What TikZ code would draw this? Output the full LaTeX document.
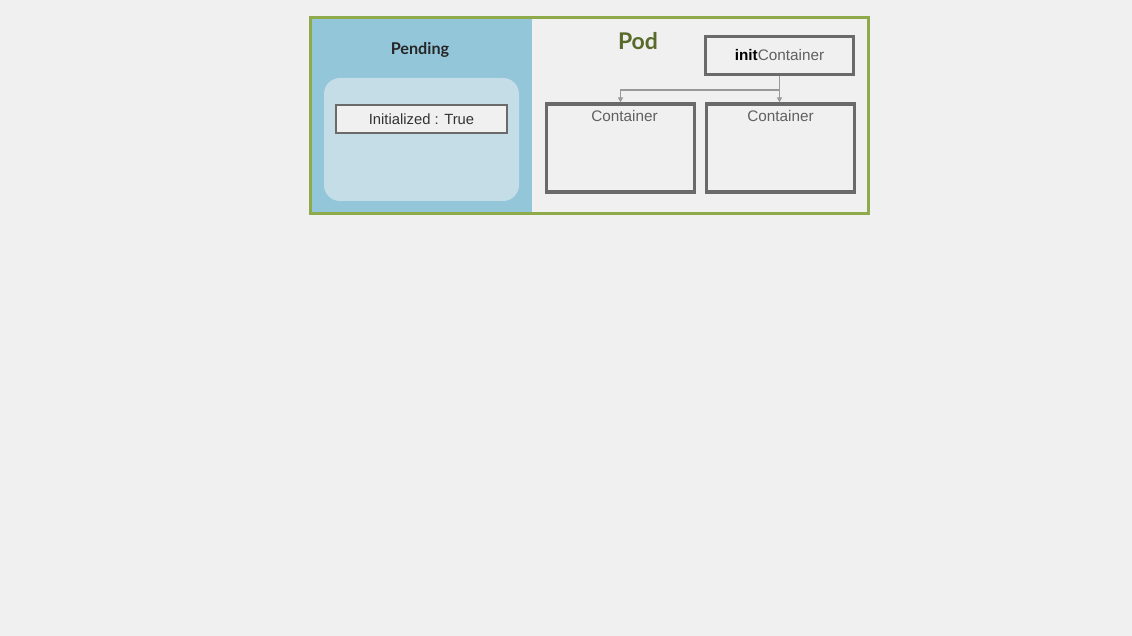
\documentclass[tikz,border=0pt]{standalone}
\usepackage{fontspec}
\setmainfont{Liberation Sans}
\newfontfamily\headfont{Lato}
\usetikzlibrary{arrows.meta,calc}
\definecolor{bg}{HTML}{F0F0F0}
\definecolor{podgreen}{HTML}{8FAA4A}
\definecolor{podtext}{HTML}{586B2A}
\definecolor{phaseblue}{HTML}{94C6DA}
\definecolor{innerblue}{HTML}{C4DDE7}
\definecolor{boxedge}{HTML}{6A6A6A}
\definecolor{conn}{HTML}{999999}
\definecolor{labelgray}{HTML}{606060}
\tikzset{
  ctrbox/.style={draw=boxedge, line width=3.2pt, fill=bg, minimum width=148pt, inner sep=0pt},
  ctrlabel/.style={text=labelgray, font=\fontsize{15.3}{17}\selectfont},
  link/.style={draw=conn, line width=1.3pt, -{Triangle[length=5pt,width=5pt]}}
}
\begin{document}
\begin{tikzpicture}[x=1pt,y=-1pt]
  \useasboundingbox (0,0) rectangle (1132,636);
  \fill[bg] (0,0) rectangle (1132,636);
  % pod frame with the phase panel on its left
  \fill[phaseblue] (310.5,18.5) rectangle (532,213.5);
  \draw[podgreen, line width=3pt] (310,18) rectangle (868,214);
  \fill[innerblue, rounded corners=16pt] (324,78) rectangle (519,201);
  \node[font=\headfont\bfseries\fontsize{16.2}{18}\selectfont, text=black!85] (phase) at (420,49.5) {Pending};
  \node[draw=boxedge, line width=1.5pt, fill=bg, minimum width=171pt, minimum height=28pt, inner sep=0pt,
        text=black!80, font=\fontsize{14.8}{16}\selectfont] (cond) at (421.5,119) {Initialized : True};
  \node[font=\headfont\bfseries\fontsize{23}{26}\selectfont, text=podtext] (pod) at (638,41) {Pod};
  % containers
  \node[ctrbox, minimum height=38pt, ctrlabel] (init) at (779.5,55.5) {\textcolor{black}{\bfseries init}Container};
  \node[ctrbox, minimum height=88pt] (c1) at (620.5,148) {};
  \node[ctrbox, minimum height=88pt] (c2) at (780.5,148) {};
  \node[ctrlabel, anchor=north] (c1lab) at ($(c1.north)+(4,4)$) {Container};
  \node[ctrlabel, anchor=north] (c2lab) at ($(c2.north)+(0,4)$) {Container};
  % start order arrows
  \coordinate (split) at ($(init.south)+(0,14)$);
  \draw[link] (init.south) -- (init.south |- c2.north);
  \draw[link] (split) -| (c1.north);
\end{tikzpicture}
\end{document}
